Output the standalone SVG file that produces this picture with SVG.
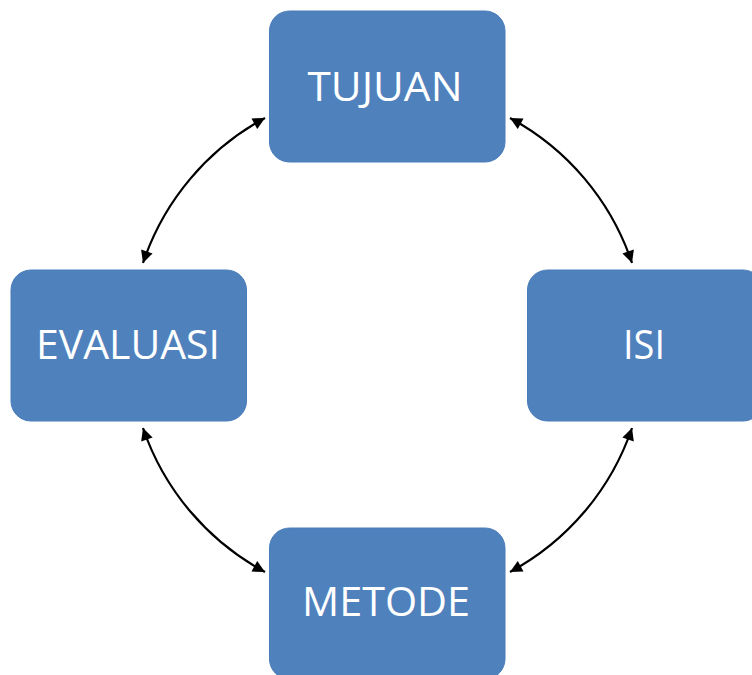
<svg xmlns="http://www.w3.org/2000/svg" width="752" height="675" viewBox="0 0 752 675">
<style>
.box{fill:#4F81BD;stroke:#4A7DBA;stroke-width:1}
.lbl{fill:#FFFFFF;font-family:"Open Sans","Liberation Sans",sans-serif;font-size:41px;text-anchor:middle}
.conn{fill:none;stroke:#000;stroke-width:2.2}
</style>
<defs>
<marker id="ah" viewBox="0 0 10 10" refX="10" refY="5" markerWidth="6" markerHeight="5.5" markerUnits="strokeWidth" orient="auto-start-reverse">
<path d="M0,0 L10,5 L0,10 Z" fill="#000"/>
</marker>
</defs>
<rect width="752" height="675" fill="#fff"/>
<g id="connectors">
<path class="conn" d="M265,118 A258,258 0 0 0 143,263" marker-start="url(#ah)" marker-end="url(#ah)"/>
<path class="conn" d="M510,118 A258,258 0 0 1 632,263" marker-start="url(#ah)" marker-end="url(#ah)"/>
<path class="conn" d="M143,428 A258,258 0 0 0 265,572" marker-start="url(#ah)" marker-end="url(#ah)"/>
<path class="conn" d="M632,428 A258,258 0 0 1 510,572" marker-start="url(#ah)" marker-end="url(#ah)"/>
</g>
<g id="tujuan">
<rect class="box" x="269.5" y="11" width="235.5" height="151" rx="20"/>
<text class="lbl" x="385" y="101" textLength="155" lengthAdjust="spacingAndGlyphs">TUJUAN</text>
</g>
<g id="evaluasi">
<rect class="box" x="11" y="270" width="235.5" height="151" rx="20"/>
<text class="lbl" x="128" y="359" textLength="184" lengthAdjust="spacingAndGlyphs">EVALUASI</text>
</g>
<g id="isi">
<rect class="box" x="527.5" y="270" width="235.5" height="151" rx="20"/>
<text class="lbl" x="644" y="359" textLength="42" lengthAdjust="spacingAndGlyphs">ISI</text>
</g>
<g id="metode">
<rect class="box" x="269.5" y="528" width="235.5" height="151" rx="20"/>
<text class="lbl" x="386" y="616" textLength="168" lengthAdjust="spacingAndGlyphs">METODE</text>
</g>
</svg>
